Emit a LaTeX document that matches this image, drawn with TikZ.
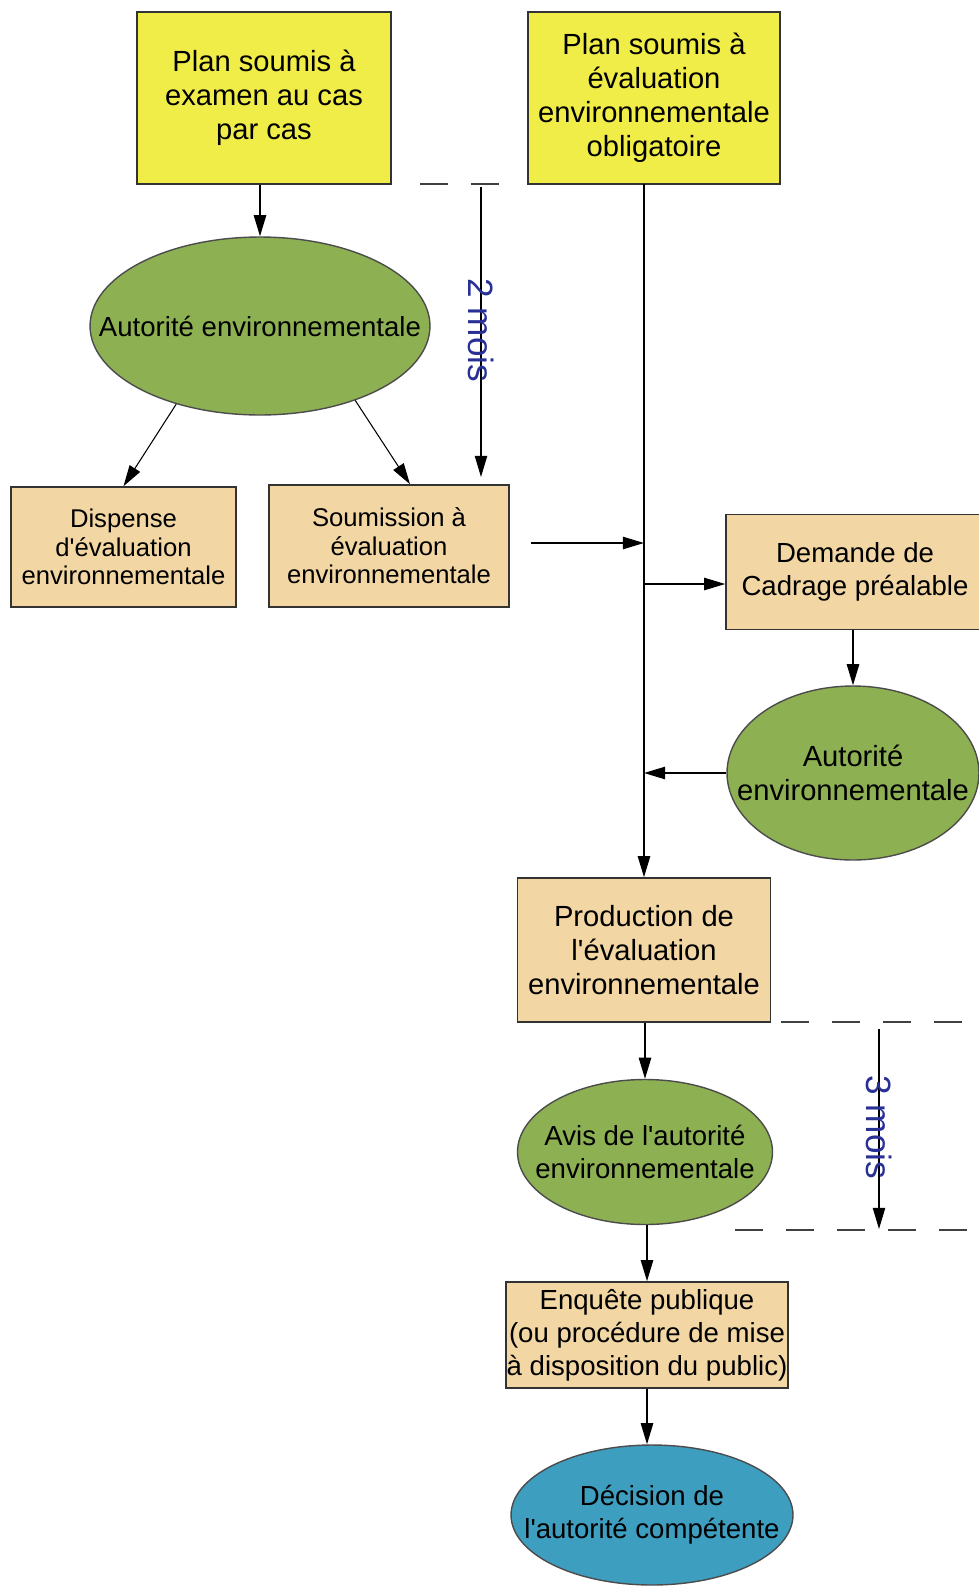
\documentclass[tikz,border=0pt]{standalone}
\usepackage{fontspec}
\setmainfont{Liberation Sans}[Ligatures=TeXOff]
\usetikzlibrary{arrows.meta,shapes.geometric,calc}

\definecolor{jaune}{RGB}{240,237,72}
\definecolor{beige}{RGB}{242,214,164}
\definecolor{vert}{RGB}{141,177,82}
\definecolor{bleu}{RGB}{62,158,192}
\definecolor{bleutexte}{RGB}{40,48,150}

\begin{document}
\begin{tikzpicture}[x=0.02cm, y=-0.02cm, >={Triangle[length=12pt,width=7pt]}, line width=0.9pt,
    boite/.style={draw=black!80, line width=0.9pt, align=center, inner sep=0pt},
    bulle/.style={ellipse, draw=black!70, line width=0.8pt, inner sep=0pt},
    tirets/.style={dash pattern=on 16pt off 13pt, line width=0.8pt, black!75},
    duree/.style={rotate=-90, text=bleutexte, font=\fontsize{20pt}{22pt}\selectfont},
    grand/.style={font=\fontsize{16.6pt}{19.4pt}\selectfont},
    moyen/.style={font=\fontsize{15.7pt}{18.8pt}\selectfont},
    petit/.style={font=\fontsize{14.6pt}{16.3pt}\selectfont}]
    \useasboundingbox (0,0) rectangle (979,1586);
    \clip (0,0) rectangle (979,1586);

    % plans de départ
    \node[boite, grand, fill=jaune, minimum width=5.08cm, minimum height=3.44cm] (casparcas) at (264,98) {Plan soumis à\\examen au cas\\par cas};
    \node[boite, grand, fill=jaune, minimum width=5.04cm, minimum height=3.44cm] (obligatoire) at (654,98) {Plan soumis à\\évaluation\\environnementale\\obligatoire};

    % examen au cas par cas
    \node[bulle, fill=vert, minimum width=6.8cm, minimum height=3.56cm,
          label={[moyen, align=center]center:Autorité environnementale}] (autorite) at (260,326) {};
    \node[boite, petit, fill=beige, minimum width=4.5cm, minimum height=2.4cm] (dispense) at (123.5,547) {Dispense\\d'évaluation\\environnementale};
    \node[boite, petit, fill=beige, minimum width=4.8cm, minimum height=2.44cm] (soumission) at (389,546) {Soumission à\\évaluation\\environnementale};

    % cadrage
    \node[boite, moyen, fill=beige, minimum width=5.16cm, minimum height=2.3cm] (cadrage) at (855,572) {Demande de\\Cadrage préalable};
    \node[bulle, fill=vert, minimum width=5.04cm, minimum height=3.48cm,
          label={[grand, align=center]center:Autorité\\environnementale}] (autoritecadrage) at (853,773) {};

    % évaluation, avis et décision
    \node[boite, grand, fill=beige, minimum width=5.06cm, minimum height=2.88cm] (production) at (644,950) {Production de\\l'évaluation\\environnementale};
    \node[bulle, fill=vert, minimum width=5.1cm, minimum height=2.9cm,
          label={[moyen, align=center]center:Avis de l'autorité\\environnementale}] (avis) at (645,1152) {};
    \node[boite, moyen, fill=beige, minimum width=5.64cm, minimum height=2.12cm] (enquete) at (647,1335) {Enquête publique\\(ou procédure de mise\\à disposition du public)};
    \node[bulle, fill=bleu, minimum width=5.64cm, minimum height=2.8cm,
          label={[moyen, align=center]center:Décision de\\l'autorité compétente}] (decision) at (652,1515) {};

    % points libres
    \coordinate (axe) at (644,184);
    \coordinate (entree) at (531,543);
    \coordinate (versCadrage) at (644,584);
    \coordinate (debut2) at (481,187);
    \coordinate (fin2) at (481,477);
    \coordinate (debut3) at (879,1029);
    \coordinate (fin3) at (879,1229);

    % flèches
    \draw[->] (casparcas.south -| autorite.north) -- (autorite.north);
    \draw[->, line width=0.6pt] (autorite.223) -- (dispense.north);
    \draw[->, line width=0.6pt] (autorite.322) -- ($(soumission.north)+(21,0)$);
    \draw[->] (axe) -- (production.north -| axe);
    \draw[->] (entree) -- (entree -| axe);
    \draw[->] (versCadrage) -- (versCadrage -| cadrage.west);
    \draw[->] (autoritecadrage.north |- cadrage.south) -- (autoritecadrage.north);
    \draw[->] (autoritecadrage.west) -- (autoritecadrage.west -| axe);
    \draw[->] (production.south -| avis.north) -- (avis.north);
    \draw[->] (enquete.north |- avis.south) -- (enquete.north);
    \draw[->] (enquete.south) -- (enquete.south |- decision.north);

    % délais
    \draw[tirets] (420,184) -- (506,184);
    \draw[->, line width=0.7pt] (debut2) -- node[duree, xshift=-1pt] {2 mois} (fin2);
    \draw[tirets] (781,1022) -- (979,1022);
    \draw[tirets] (735,1230) -- (979,1230);
    \draw[->, line width=0.7pt] (debut3) -- node[duree, xshift=-1pt] {3 mois} (fin3);
\end{tikzpicture}
\end{document}
